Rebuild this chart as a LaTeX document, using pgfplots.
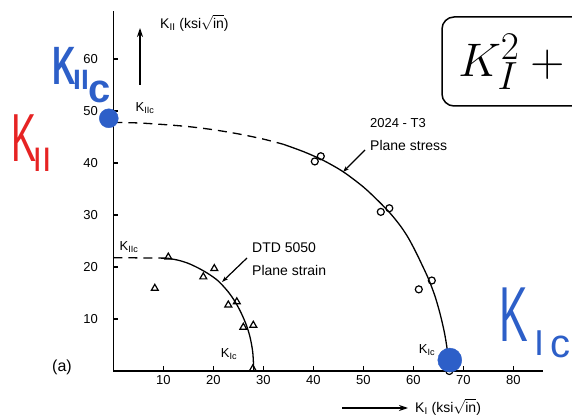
\documentclass[border=0pt]{standalone}
\usepackage{pgfplots}
\pgfplotsset{compat=1.18}
\usepackage{fontspec}
\setmainfont{Liberation Sans}
\usetikzlibrary{arrows.meta}
\definecolor{penblue}{RGB}{45,95,200}
\definecolor{penred}{RGB}{230,35,35}
\newcommand{\fs}[1]{\fontsize{#1bp}{#1bp}\selectfont}
\begin{document}
\begin{tikzpicture}
\path[use as bounding box] (0,0) rectangle (572bp,416bp);
\clip (0,0) rectangle (572bp,416bp);
\begin{axis}[
  at={(113.3bp,45bp)}, anchor=south west,
  x=5bp, y=5.2bp,
  xmin=0, xmax=86, ymin=0, ymax=69.3,
  axis lines*=left,
  axis line style={line width=1.6bp},
  clip=false,
  xtick={10,20,...,80}, ytick={10,20,...,60},
  tick align=inside,
  major tick length=5bp,
  every tick/.style={black, line width=1.2bp},
  tick label style={font=\fs{13}},
  /pgf/number format/assume math mode=true,
  yticklabel style={xshift=-12bp},
  xticklabel style={yshift=-1bp},
]
% 2024-T3 plane stress
\addplot[black, line width=1.3bp, dash pattern=on 9bp off 6bp, smooth] coordinates {(0,47.8)(5,47.7)(10,47.4)(15,47.0)(20,46.4)(25,45.6)(30,44.6)(34,43.6)};
\addplot[black, line width=1.3bp, smooth] coordinates {(34,43.6)(38,42.2)(42,40.5)(46,38.3)(50,35.4)(53,32.7)(55.5,30.2)(57.5,27.8)(59,25.6)(60.5,22.9)(61.7,20.5)(63,17.8)(64.3,14.5)(65.3,11.2)(66.2,7.5)(66.8,4)(67.2,0)};
\addplot[only marks, mark=o, mark size=3.5bp, mark options={line width=1.2bp, black}] coordinates {(40.3,40.3)(41.5,41.3)(53.5,30.6)(55.2,31.3)(61.1,15.7)(63.7,17.4)(67.2,0)};
% DTD 5050 plane strain
\addplot[black, line width=1.3bp, dash pattern=on 9bp off 6bp] coordinates {(0,21.8)(10.8,21.7)};
\addplot[black, line width=1.3bp, smooth] coordinates {(10.8,21.7)(13,21.3)(15,20.7)(17,19.8)(19,18.7)(21,17.3)(23,15.2)(24.5,13.1)(25.7,10.9)(26.7,8.6)(27.4,6.3)(27.9,3.5)(28.1,0)};
\addplot[only marks, mark=triangle, mark size=4bp, mark options={line width=1.2bp, black}] coordinates {(11,21.9)(8.3,15.9)(18,18.1)(20.2,19.7)(23,12.7)(24.7,13.3)(26,8.4)(28,8.8)(27.9,0.4)};
% hand-drawn highlight dots
\addplot[only marks, mark=*, mark size=9.5bp, penblue] coordinates {(-0.9,48.6)};
\addplot[only marks, mark=*, mark size=12bp, penblue] coordinates {(67.3,2.1)};
\end{axis}
% printed annotations
\node[font=\fs{13}] at (145bp,308bp) {K\textsubscript{IIc}};
\node[font=\fs{13}] at (129bp,169bp) {K\textsubscript{IIc}};
\node[font=\fs{13}] at (229bp,62bp) {K\textsubscript{Ic}};
\node[font=\fs{13}] at (427bp,66bp) {K\textsubscript{Ic}};
\node[font=\fs{13}] at (398bp,293bp) {2024 - T3};
\node[font=\fs{14}, anchor=west, inner sep=0pt] at (370bp,271bp) {Plane stress};
\node[font=\fs{14}, anchor=west, inner sep=0pt] at (252bp,168bp) {DTD 5050};
\node[font=\fs{14}, anchor=west, inner sep=0pt] at (252bp,146bp) {Plane strain};
\node[font=\fs{16}] at (62bp,49bp) {(a)};
\node[font=\fs{14}, anchor=west, inner sep=0pt] at (160bp,393bp) {K\textsubscript{II} (ksi$\sqrt{\mbox{in}}$)};
\node[font=\fs{14}, anchor=west, inner sep=0pt] at (415bp,9bp) {K\textsubscript{I} (ksi$\sqrt{\mbox{in}}$)};
\draw[line width=1.3bp, -{Stealth[length=9bp,width=6bp]}] (140bp,331bp) -- (140bp,388bp);
\draw[line width=1.3bp, -{Stealth[length=9bp,width=6bp]}] (342bp,8bp) -- (408bp,8bp);
\draw[line width=1.2bp, -{Stealth[length=6bp,width=4bp]}] (365bp,266bp) -- (343bp,244bp);
\draw[line width=1.2bp, -{Stealth[length=6bp,width=4bp]}] (247bp,158bp) -- (222bp,134bp);
% formula box (cut by the edge)
\draw[line width=1.5bp, rounded corners=12bp, fill=white] (442bp,310bp) rectangle (700bp,399bp);
\node[anchor=base west, inner sep=0pt, font=\Huge, scale=1.9] at (458bp,339bp) {$K_I^2+K_{II}^2$};
% handwritten notes
\node[penblue, font=\fs{54}\bfseries, xscale=0.6] at (64bp,350bp) {K};
\node[penblue, font=\fs{28}\bfseries] at (81bp,336bp) {II};
\node[penblue, font=\fs{40}\bfseries] at (100bp,324bp) {c};
\node[penred, font=\fs{68}, xscale=0.55] at (24bp,278bp) {K};
\node[penred, font=\fs{34}] at (42bp,256bp) {II};
\node[penblue, font=\fs{78}, xscale=0.55] at (514bp,101bp) {K};
\node[penblue, font=\fs{36}] at (539bp,73bp) {I};
\node[penblue, font=\fs{40}] at (560bp,69bp) {c};
\end{tikzpicture}
\end{document}
